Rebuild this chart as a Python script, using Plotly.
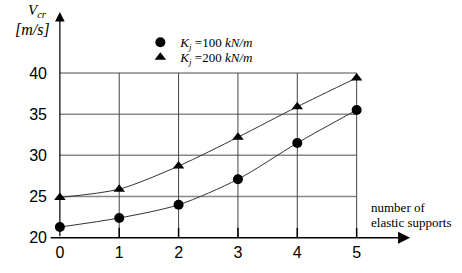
import plotly.graph_objects as go

supports = [0, 1, 2, 3, 4, 5]
v_k100 = [21.3, 22.4, 24.0, 27.1, 31.5, 35.5]
v_k200 = [24.9, 25.9, 28.7, 32.2, 35.9, 39.4]
y_ticks = [20, 25, 30, 35, 40]
x_ticks = [0, 1, 2, 3, 4, 5]
names = ["<i>K</i><sub><i>j</i></sub> =100 <i>kN/m</i>", "<i>K</i><sub><i>j</i></sub> =200 <i>kN/m</i>"]

fig = go.Figure()
for vals, sym, nm, lg in [(v_k100, "circle", names[0], "legend"), (v_k200, "triangle-up", names[1], "legend2")]:
    fig.add_trace(go.Scatter(x=supports, y=vals, mode="lines",
                             line=dict(color="#333", width=1, shape="spline", smoothing=0.8),
                             showlegend=False, hoverinfo="skip"))
    fig.add_trace(go.Scatter(x=supports, y=vals, mode="markers", name=nm, legend=lg,
                             marker=dict(symbol=sym, size=10, color="black")))

shapes = []
for yv in y_ticks[1:]:
    shapes.append(dict(type="line", xref="x", yref="y", x0=0, x1=5, y0=yv, y1=yv,
                       line=dict(color="#888", width=1.5), layer="below"))
for xv in x_ticks[1:]:
    shapes.append(dict(type="line", xref="x", yref="y", x0=xv, x1=xv, y0=20, y1=40,
                       line=dict(color="#444", width=1), layer="below"))
    shapes.append(dict(type="line", xref="x", yref="y", x0=xv, x1=xv, y0=20, y1=21.2,
                       line=dict(color="black", width=1.5), layer="below"))

serif = dict(family="Liberation Serif", size=13, color="black")
annotations = [
    dict(x=5.9, y=20, ax=-0.18, ay=20, xref="x", yref="y", axref="x", ayref="y",
         showarrow=True, arrowhead=2, arrowsize=1.6, arrowwidth=1.5, arrowcolor="black", text=""),
    dict(x=0, y=47.4, ax=0, ay=20, xref="x", yref="y", axref="x", ayref="y",
         showarrow=True, arrowhead=2, arrowsize=1.6, arrowwidth=1.2, arrowcolor="black", text=""),
    dict(x=0.004, y=0.982, xref="paper", yref="paper", showarrow=False, xanchor="right", yanchor="middle",
         text="<i>V</i><sub><i>cr</i></sub>", font=dict(family="Liberation Serif", size=15, color="black")),
    dict(x=0.011, y=0.905, xref="paper", yref="paper", showarrow=False, xanchor="right", yanchor="middle",
         text="<i>[m/s]</i>", font=dict(family="Liberation Serif", size=16, color="black")),
    dict(x=0.873, y=0.163, xref="paper", yref="paper", showarrow=False, xanchor="left", yanchor="middle",
         text="number of", font=serif),
    dict(x=0.873, y=0.100, xref="paper", yref="paper", showarrow=False, xanchor="left", yanchor="middle",
         text="elastic supports", font=serif),
]

legend_common = dict(xanchor="left", yanchor="top", bgcolor="rgba(0,0,0,0)",
                     font=serif, itemwidth=30)

fig.update_layout(
    width=462, height=273,
    margin=dict(l=48, r=46, t=7, b=27),
    paper_bgcolor="white", plot_bgcolor="white",
    shapes=shapes, annotations=annotations,
    xaxis=dict(range=[-0.2, 6.0], tickvals=x_ticks, showgrid=False, zeroline=False, showline=False,
               automargin=False,
               tickfont=dict(family="Liberation Sans", size=16, color="black"), ticks="", ticklabelstandoff=-5),
    yaxis=dict(range=[19, 48], tickvals=y_ticks, showgrid=False, zeroline=False, showline=False,
               automargin=False,
               tickfont=dict(family="Liberation Sans", size=16, color="black"), ticks=""),
    legend=dict(x=0.251, y=0.915, **legend_common),
    legend2=dict(x=0.251, y=0.852, **legend_common),
    showlegend=True,
)

fig.write_html("out.html", config={"displayModeBar": False},
               post_script="document.body.style.margin='0';")
